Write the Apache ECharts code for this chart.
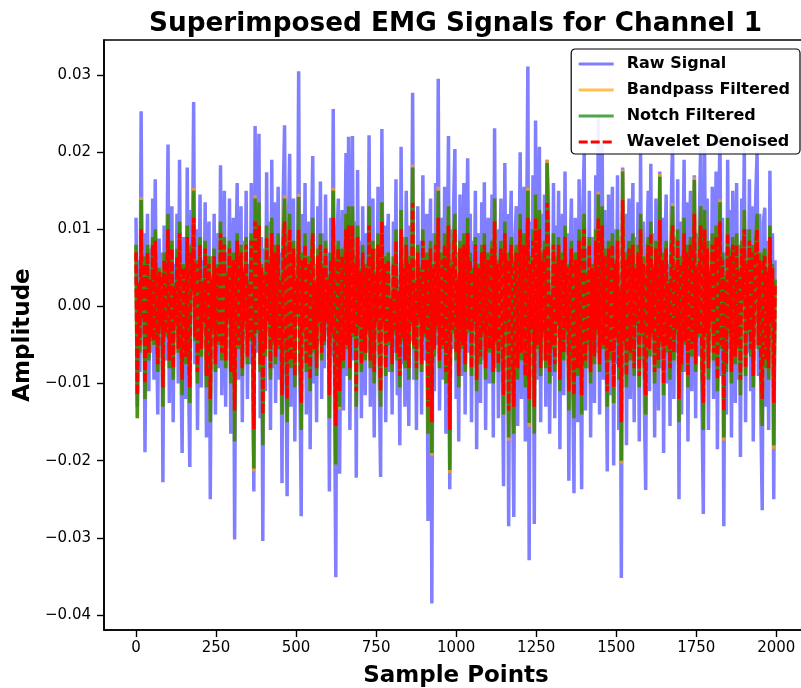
<!DOCTYPE html>
<html>
<head>
<meta charset="utf-8">
<title>Superimposed EMG Signals for Channel 1</title>
<script src="https://cdn.jsdelivr.net/npm/echarts@6/dist/echarts.min.js"></script>
<style>
  html, body { margin: 0; padding: 0; background: #fff; }
  #chart { width: 801px; height: 688px; }
</style>
</head>
<body>
<div id="chart"></div>
<script>
// Every 4th sample of channel 1 (samples 0..1996); amplitudes in units of 1e-4.
const sampleStep = 4;

const rawSignal = [
  115,-130,60,-85,253,-40,95,-189,30,120,-110,75,-60,140,-95,165,-20,-140,88,-55,
  70,-228,105,-70,40,210,-125,15,130,-150,55,-35,120,-100,190,-60,-190,90,10,-120,
  180,-90,-208,125,50,265,-75,100,-160,20,145,-105,60,-30,135,-170,80,110,-250,65,
  -45,120,-140,35,95,-80,183,-115,10,150,-130,70,-20,140,-165,45,115,-302,60,160,
  -95,25,130,-150,85,-40,150,-120,55,-75,160,-50,-240,234,-60,40,224,-145,90,-304,
  75,-110,174,-35,110,-160,190,-80,135,-125,30,155,-95,70,-229,145,235,-60,-246,100,
  198,-130,45,140,-175,65,-20,305,-90,-272,120,-55,160,-140,25,110,-185,80,195,-100,
  55,-150,130,-45,162,-120,95,-80,145,-30,70,-240,115,-65,256,-110,-351,90,140,-217,
  35,125,-135,60,199,-90,220,-160,40,221,-70,110,-222,177,-50,85,-145,130,-20,-115,
  95,-60,222,-130,50,140,-170,75,-35,155,-100,-221,230,-40,105,-150,65,120,-85,15,
  -140,110,-60,165,-115,35,-180,207,-75,90,-130,150,20,-155,105,-45,277,-95,60,-160,
  130,-25,85,-140,170,-70,45,120,-278,65,140,-385,95,-110,160,-50,295,-135,30,115,
  -95,155,-165,40,221,-237,100,-55,130,204,-120,70,-175,145,10,-90,160,-140,55,192,
  -60,120,-150,85,-30,150,-185,95,40,-125,135,-70,161,-160,65,115,-100,25,145,-170,
  231,-80,100,-145,55,140,-60,-233,186,-40,120,-285,75,150,-110,-273,90,130,-155,45,
  200,-120,65,155,-175,90,311,-329,110,-60,170,-282,241,-95,40,207,-150,120,-70,145,
  -130,190,135,-165,25,-90,160,-145,105,-40,150,-185,80,120,-115,175,-60,95,-226,70,
  140,-100,-242,115,55,-150,165,-45,-237,130,200,-135,75,-80,150,-170,90,35,-125,170,
  -60,245,-140,80,215,-95,125,-30,-214,145,-115,60,155,-206,100,-75,170,-160,45,-352,
  180,-85,120,-180,65,140,-120,30,160,-150,90,-45,135,-175,200,-70,110,-130,-238,80,
  150,-110,185,-65,95,-170,140,20,-135,175,-80,115,-190,70,145,-100,55,-155,130,220,
  -120,90,-60,165,-250,110,-140,45,190,-85,135,-175,75,150,-110,30,170,-145,95,-65,
  120,215,-130,-269,205,-70,140,-160,85,-40,155,-120,60,175,-185,95,228,-90,115,-285,
  70,-140,190,-55,125,-170,150,35,-125,160,-95,80,-195,140,20,210,-150,100,-60,165,
  -110,130,-175,60,145,200,-90,120,-150,-264,110,128,-130,85,-160,176,-45,95,-250,60
];

const bandpassFiltered = [
  80,-145,30,-60,142,-15,65,-120,10,80,-70,40,-45,90,-50,100,-5,-85,50,-30,
  45,-130,70,-40,20,120,-80,5,85,-95,30,-25,75,-60,110,-35,-115,55,0,-75,
  105,-55,-125,80,25,154,-45,60,-100,15,90,-65,35,-20,85,-105,50,65,-150,40,
  -30,75,-85,20,55,-50,110,-70,5,90,-80,45,-15,85,-100,25,70,-175,35,95,
  -55,15,80,-90,50,-25,90,-75,35,-45,95,-30,-214,144,-35,25,135,-85,55,-180,
  45,-65,105,-20,65,-95,115,-50,80,-75,20,95,-55,40,-140,90,144,-35,-150,60,
  120,-80,25,85,-105,40,-10,146,-55,-160,70,-35,95,-85,15,65,-110,50,115,-60,
  35,-90,75,-25,95,-70,55,-50,85,-20,40,-145,70,-40,154,-65,-205,55,85,-134,
  20,75,-80,35,120,-55,130,-95,25,130,-40,65,-130,105,-30,50,-85,80,-10,-70,
  55,-35,130,-80,30,85,-100,45,-20,95,-60,-130,135,-25,65,-90,40,70,-50,10,
  -85,65,-35,100,-70,20,-105,125,-45,55,-80,90,10,-95,65,-25,184,-55,35,-95,
  80,-15,50,-85,100,-40,25,70,-165,40,85,-194,55,-65,95,-30,155,-80,20,70,
  -55,95,-100,25,130,-216,60,-35,80,120,-70,40,-105,85,5,-55,95,-85,35,115,
  -35,70,-90,50,-20,90,-110,55,25,-75,80,-40,95,-95,40,70,-60,15,85,-100,
  140,-50,60,-85,35,85,-35,-140,110,-25,70,-174,45,90,-65,-165,55,80,-95,25,
  120,-70,40,95,-105,55,154,-156,65,-35,100,-165,145,-55,25,125,-90,70,-40,85,
  -80,190,80,-100,15,-55,95,-85,65,-25,90,-110,50,70,-70,105,-35,55,-135,40,
  85,-60,-145,70,35,-90,100,-25,-140,80,120,-80,45,-50,90,-100,55,20,-75,100,
  -35,149,-85,50,130,-55,75,-20,-130,85,-70,35,95,-125,60,-45,100,-95,25,-204,
  178,-50,70,-105,40,85,-70,20,95,-90,55,-25,80,-105,120,-40,65,-80,-140,50,
  90,-65,110,-40,55,-100,85,10,-80,172,-50,70,-115,40,85,-60,35,-95,80,134,
  -70,55,-35,100,-150,65,-85,25,115,-50,80,-105,45,90,-65,20,168,-85,55,-40,
  70,130,-80,-160,125,-40,85,-95,50,-25,95,-70,35,105,-110,55,139,-55,70,-174,
  40,-85,115,-35,75,-100,90,20,-75,95,-55,50,-115,85,10,125,-90,60,-35,100,
  -65,80,-105,35,85,120,-55,70,-90,-155,65,75,-80,50,-95,105,-25,55,-185,35
];

const notchFiltered = [
  80,-145,30,-60,138,-15,65,-120,10,80,-70,40,-45,90,-50,100,-5,-85,50,-30,
  45,-130,70,-40,20,120,-80,5,85,-95,30,-25,75,-60,110,-35,-115,55,0,-75,
  105,-55,-125,80,25,150,-45,60,-100,15,90,-65,35,-20,85,-105,50,65,-150,40,
  -30,75,-85,20,55,-50,110,-70,5,90,-80,45,-15,85,-100,25,70,-175,35,95,
  -55,15,80,-90,50,-25,90,-75,35,-45,95,-30,-210,140,-35,25,135,-85,55,-180,
  45,-65,105,-20,65,-95,115,-50,80,-75,20,95,-55,40,-140,90,140,-35,-150,60,
  120,-80,25,85,-105,40,-10,142,-55,-160,70,-35,95,-85,15,65,-110,50,115,-60,
  35,-90,75,-25,95,-70,55,-50,85,-20,40,-145,70,-40,150,-65,-205,55,85,-130,
  20,75,-80,35,120,-55,130,-95,25,130,-40,65,-130,105,-30,50,-85,80,-10,-70,
  55,-35,130,-80,30,85,-100,45,-20,95,-60,-130,135,-25,65,-90,40,70,-50,10,
  -85,65,-35,100,-70,20,-105,125,-45,55,-80,90,10,-95,65,-25,180,-55,35,-95,
  80,-15,50,-85,100,-40,25,70,-165,40,85,-190,55,-65,95,-30,150,-80,20,70,
  -55,95,-100,25,130,-212,60,-35,80,120,-70,40,-105,85,5,-55,95,-85,35,115,
  -35,70,-90,50,-20,90,-110,55,25,-75,80,-40,95,-95,40,70,-60,15,85,-100,
  140,-50,60,-85,35,85,-35,-140,110,-25,70,-170,45,90,-65,-165,55,80,-95,25,
  120,-70,40,95,-105,55,150,-151,65,-35,100,-165,145,-55,25,125,-90,70,-40,85,
  -80,186,80,-100,15,-55,95,-85,65,-25,90,-110,50,70,-70,105,-35,55,-135,40,
  85,-60,-145,70,35,-90,100,-25,-140,80,120,-80,45,-50,90,-100,55,20,-75,100,
  -35,145,-85,50,130,-55,75,-20,-130,85,-70,35,95,-125,60,-45,100,-95,25,-200,
  175,-50,70,-105,40,85,-70,20,95,-90,55,-25,80,-105,120,-40,65,-80,-140,50,
  90,-65,110,-40,55,-100,85,10,-80,168,-50,70,-115,40,85,-60,35,-95,80,130,
  -70,55,-35,100,-150,65,-85,25,115,-50,80,-105,45,90,-65,20,164,-85,55,-40,
  70,130,-80,-160,125,-40,85,-95,50,-25,95,-70,35,105,-110,55,135,-55,70,-170,
  40,-85,115,-35,75,-100,90,20,-75,95,-55,50,-115,85,10,125,-90,60,-35,100,
  -65,80,-105,35,85,120,-55,70,-90,-155,65,75,-80,50,-95,105,-25,55,-180,35
];

const waveletDenoised = [
  70,-115,30,-50,100,-15,55,-100,10,70,-60,35,-40,80,-45,85,-5,-75,45,-25,
  40,-105,60,-35,20,100,-70,5,75,-80,25,-20,65,-55,95,-30,-95,50,0,-65,
  90,-50,-105,70,20,115,-40,55,-85,15,80,-55,30,-20,75,-90,45,55,-120,35,
  -25,65,-75,20,50,-45,95,-60,5,80,-70,40,-15,75,-85,20,60,-135,30,85,
  -50,15,70,-80,45,-20,80,-65,30,-40,85,-25,-159,110,-30,20,105,-75,50,-140,
  40,-55,90,-20,55,-80,95,-45,70,-65,20,80,-50,35,-115,80,110,-30,-120,55,
  100,-70,20,75,-90,35,-10,99,-50,-125,60,-30,80,-75,15,55,-95,45,95,-55,
  30,-80,65,-20,80,-60,50,-45,75,-20,35,-115,60,-35,115,-55,-155,50,75,-110,
  20,65,-70,30,100,-50,105,-80,20,105,-35,55,-110,90,-25,45,-75,70,-10,-60,
  50,-30,105,-70,25,75,-85,40,-20,80,-50,-110,110,-20,55,-80,35,60,-45,10,
  -75,55,-30,85,-60,20,-90,100,-40,50,-70,80,10,-80,55,-20,134,-50,30,-80,
  70,-15,45,-75,85,-35,20,60,-130,35,75,-150,50,-55,80,-25,115,-70,20,60,
  -50,80,-85,20,105,-160,50,-30,70,100,-60,35,-90,75,5,-50,80,-75,30,95,
  -30,60,-80,45,-20,80,-95,50,20,-65,70,-35,80,-80,35,60,-55,15,75,-85,
  110,-45,55,-75,30,75,-30,-115,95,-20,60,-135,40,80,-55,-130,50,70,-80,20,
  100,-60,35,80,-90,50,115,-120,55,-30,85,-130,115,-50,20,100,-80,60,-35,75,
  -70,134,70,-85,15,-50,80,-75,55,-20,80,-95,45,60,-60,90,-30,50,-110,35,
  75,-50,-115,60,30,-80,85,-20,-115,70,100,-70,40,-45,80,-85,50,20,-65,85,
  -30,115,-75,45,105,-50,65,-20,-110,75,-60,30,80,-105,55,-40,85,-80,20,-150,
  138,-45,60,-90,35,75,-60,20,80,-80,50,-20,70,-90,100,-35,55,-70,-115,45,
  80,-55,95,-35,50,-85,75,10,-70,112,-45,60,-100,35,75,-50,30,-80,70,105,
  -60,50,-30,85,-120,55,-75,20,95,-45,70,-90,40,80,-55,20,120,-75,50,-35,
  60,105,-70,-125,100,-35,75,-80,45,-20,80,-60,30,90,-95,50,110,-50,60,-135,
  35,-75,95,-30,65,-85,80,20,-65,80,-50,45,-95,75,10,100,-80,55,-30,85,
  -55,70,-90,30,75,100,-50,60,-80,-120,55,65,-70,45,-80,90,-20,50,-125,30
];

const seriesNames = ['Raw Signal', 'Bandpass Filtered', 'Notch Filtered', 'Wavelet Denoised'];
const xTicks = [0, 250, 500, 750, 1000, 1250, 1500, 1750, 2000];
const yTicks = [-0.04, -0.03, -0.02, -0.01, 0.00, 0.01, 0.02, 0.03];

const FONT = 'DejaVu Sans';
const LINE_W = 3.5;

function toPoints(values) {
  return values.map((v, i) => [i * sampleStep, v / 1e4]);
}

function lineSeries(name, values, color, lineType) {
  return {
    name: name,
    type: 'line',
    data: toPoints(values),
    showSymbol: false,
    symbol: 'none',
    silent: true,
    animation: false,
    clip: true,
    lineStyle: { color: color, width: LINE_W, type: lineType || 'solid' },
    itemStyle: { color: color }
  };
}

const chart = echarts.init(document.getElementById('chart'), null, { renderer: 'canvas' });

chart.setOption({
  animation: false,
  backgroundColor: '#fff',
  title: {
    text: 'Superimposed EMG Signals for Channel 1',
    left: 144,
    top: 6,
    textStyle: { fontFamily: FONT, fontWeight: 'bold', fontSize: 26.3, color: '#000' }
  },
  grid: {
    left: 104, top: 40, width: 704, height: 590,
    outerBoundsMode: 'none',
    containLabel: false,
    show: true, borderColor: '#000', borderWidth: 1.6, backgroundColor: 'transparent'
  },
  legend: {
    data: seriesNames,
    orient: 'vertical',
    right: 1,
    top: 49,
    padding: [7, 10, 4, 6],
    itemWidth: 35,
    itemHeight: 14,
    itemGap: 10,
    backgroundColor: 'rgba(255,255,255,0.9)',
    borderColor: '#000',
    borderWidth: 1.2,
    borderRadius: 4,
    z: 10,
    itemStyle: { opacity: 0 },
    lineStyle: { width: 3 },
    textStyle: {
      fontFamily: FONT, fontWeight: 'bold', fontSize: 16, color: '#000',
      lineHeight: 14, padding: [0, 0, 0, 8]
    }
  },
  xAxis: {
    type: 'value',
    min: -100,
    max: 2099,
    name: 'Sample Points',
    nameLocation: 'middle',
    nameGap: 35,
    nameTextStyle: { fontFamily: FONT, fontWeight: 'bold', fontSize: 23, color: '#000' },
    axisLine: { show: true, onZero: false, lineStyle: { color: '#000', width: 1.6 } },
    axisTick: { show: true, inside: false, length: 7, customValues: xTicks, lineStyle: { color: '#000', width: 1.4 } },
    axisLabel: {
      customValues: xTicks, margin: 11, fontFamily: FONT, fontSize: 15, color: '#000',
      formatter: v => String(v)
    },
    splitLine: { show: false }
  },
  yAxis: {
    type: 'value',
    min: -0.04194,
    max: 0.03454,
    name: 'Amplitude',
    nameLocation: 'middle',
    nameRotate: 90,
    nameGap: 68,
    nameTextStyle: { fontFamily: FONT, fontWeight: 'bold', fontSize: 23, color: '#000' },
    axisLine: { show: true, onZero: false, lineStyle: { color: '#000', width: 1.6 } },
    axisTick: { show: true, inside: false, length: 7, customValues: yTicks, lineStyle: { color: '#000', width: 1.4 } },
    axisLabel: {
      customValues: yTicks, margin: 13, fontFamily: FONT, fontSize: 15, color: '#000',
      formatter: v => v.toFixed(2).replace('-', '\u2212').replace('\u22120.00', '0.00')
    },
    splitLine: { show: false }
  },
  series: [
    lineSeries(seriesNames[0], rawSignal, 'rgba(0,0,255,0.5)'),
    lineSeries(seriesNames[1], bandpassFiltered, 'rgba(255,165,0,0.7)'),
    lineSeries(seriesNames[2], notchFiltered, 'rgba(0,128,0,0.7)'),
    lineSeries(seriesNames[3], waveletDenoised, '#ff0000', [9, 3])
  ]
});
</script>
</body>
</html>
